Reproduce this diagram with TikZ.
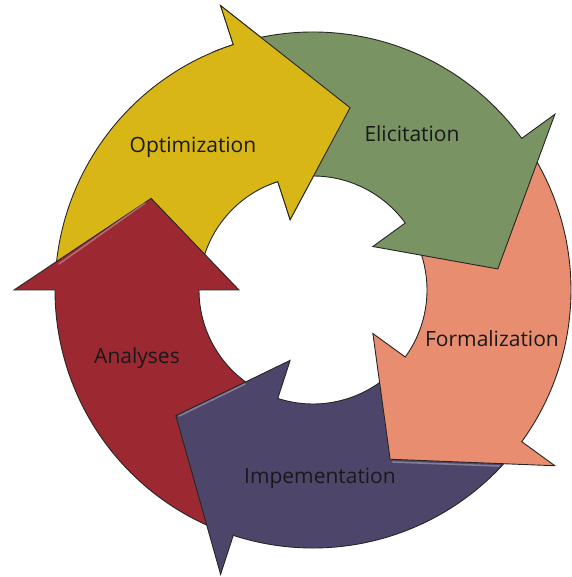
\documentclass[tikz,border=0pt]{standalone}
\usepackage{fontspec}
\setmainfont{Open Sans}
\definecolor{optcol}{RGB}{216,182,22}
\definecolor{elicol}{RGB}{121,147,99}
\definecolor{formcol}{RGB}{232,141,112}
\definecolor{implcol}{RGB}{78,70,106}
\definecolor{anacol}{RGB}{156,40,50}

\begin{document}
\begin{tikzpicture}[x=1pt, y=1pt,
    seg/.style={draw=black!85, line width=0.9pt, line join=miter},
    shine/.style={draw=white, opacity=0.3, line width=1.6pt, line cap=round},
    lbl/.style={font=\fontsize{21}{24}\selectfont, text=black!90}]
    \useasboundingbox (-313,-287) rectangle (258,290);

    \draw[seg, fill=optcol] (177:258) arc[start angle=177, end angle=108, radius=258] -- (108:299) -- (78.5:186) -- (108:74) -- (108:114) arc[start angle=108, end angle=177, radius=114] -- cycle;
    \draw[seg, fill=anacol] (249:258) arc[start angle=249, end angle=180, radius=258] -- (180:299) -- (150.5:186) -- (180:74) -- (180:114) arc[start angle=180, end angle=249, radius=114] -- cycle;
    \draw[shine] (-254,26) -- (-168,87);
    \draw[seg, fill=implcol] (-39:258) arc[start angle=-39, end angle=-108, radius=258] -- (-108:299) -- (-137.5:186) -- (-108:74) -- (-108:114) arc[start angle=-108, end angle=-39, radius=114] -- cycle;
    \draw[shine] (-134,-126) -- (-68,-94);
    \draw[seg, fill=formcol] (33:258) arc[start angle=33, end angle=-36, radius=258] -- (-36:299) -- (-65.5:186) -- (-36:74) -- (-36:114) arc[start angle=-36, end angle=33, radius=114] -- cycle;
    \draw[shine] (80,-172) -- (186,-176);
    \draw[seg, fill=elicol] (105:258) arc[start angle=105, end angle=36, radius=258] -- (36:299) -- (6.5:186) -- (36:74) -- (36:114) arc[start angle=36, end angle=105, radius=114] -- cycle;

    % 黄色の矢印の先端を緑の上に重ねる
    \begin{scope}
        \clip (0,0) -- (68:330) -- (113:330) -- cycle;
        \draw[seg, fill=optcol] (177:258) arc[start angle=177, end angle=108, radius=258] -- (108:299) -- (78.5:186) -- (108:74) -- (108:114) arc[start angle=108, end angle=177, radius=114] -- cycle;
    \end{scope}

    \node[lbl] (opt) at (-120,143) {Optimization};
    \node[lbl] (eli) at (99,156) {Elicitation};
    \node[lbl] (form) at (179,-49) {Formalization};
    \node[lbl] (ana) at (-176,-68) {Analyses};
    \node[lbl] (impl) at (7,-188) {Impementation};
\end{tikzpicture}
\end{document}
